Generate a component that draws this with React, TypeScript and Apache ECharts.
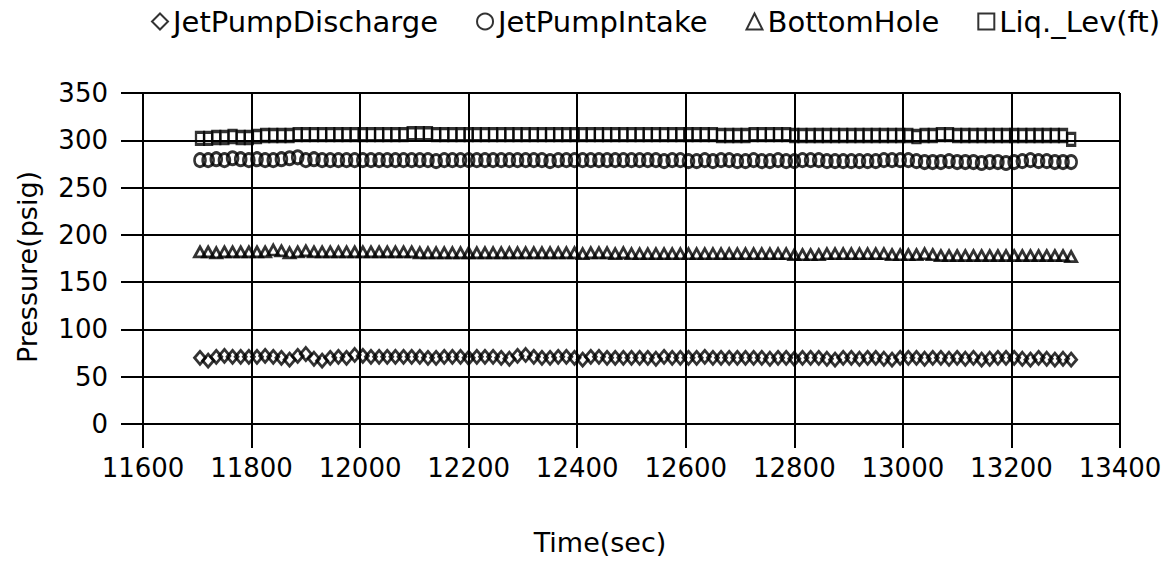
import React, { useEffect, useRef } from "react";
import * as echarts from "echarts";

const times = [
  11705, 11720, 11735, 11750, 11765, 11780, 11795, 11810, 11825, 11840,
  11855, 11870, 11885, 11900, 11915, 11930, 11945, 11960, 11975, 11990,
  12005, 12020, 12035, 12050, 12065, 12080, 12095, 12110, 12125, 12140,
  12155, 12170, 12185, 12200, 12215, 12230, 12245, 12260, 12275, 12290,
  12305, 12320, 12335, 12350, 12365, 12380, 12395, 12410, 12425, 12440,
  12455, 12470, 12485, 12500, 12515, 12530, 12545, 12560, 12575, 12590,
  12605, 12620, 12635, 12650, 12665, 12680, 12695, 12710, 12725, 12740,
  12755, 12770, 12785, 12800, 12815, 12830, 12845, 12860, 12875, 12890,
  12905, 12920, 12935, 12950, 12965, 12980, 12995, 13010, 13025, 13040,
  13055, 13070, 13085, 13100, 13115, 13130, 13145, 13160, 13175, 13190,
  13205, 13220, 13235, 13250, 13265, 13280, 13295, 13310,
];

const jetPumpDischarge = [
  70, 67, 71, 72, 71, 71, 71, 71, 72, 71,
  70, 68, 72, 74, 69, 67, 70, 71, 70, 73,
  72, 71, 71, 71, 71, 71, 71, 71, 70, 70,
  71, 71, 71, 70, 71, 71, 71, 70, 69, 72,
  73, 71, 70, 70, 71, 71, 70, 68, 71, 71,
  70, 70, 70, 70, 70, 70, 69, 71, 70, 70,
  70, 70, 71, 70, 70, 70, 70, 70, 70, 70,
  69, 70, 70, 69, 70, 70, 70, 69, 68, 70,
  70, 69, 70, 70, 69, 68, 70, 70, 70, 69,
  70, 70, 69, 70, 69, 70, 68, 69, 70, 70,
  70, 69, 68, 70, 69, 68, 69, 68,
];

const jetPumpIntake = [
  279, 279, 280, 279, 281, 280, 279, 280, 279, 279,
  280, 281, 282, 279, 280, 279, 279, 279, 279, 279,
  279, 279, 279, 279, 279, 279, 279, 279, 279, 278,
  279, 279, 279, 279, 279, 279, 279, 279, 279, 279,
  279, 279, 279, 278, 279, 279, 279, 279, 279, 279,
  279, 279, 279, 279, 279, 279, 279, 278, 279, 279,
  278, 278, 279, 278, 279, 279, 278, 278, 279, 278,
  278, 279, 278, 278, 279, 279, 279, 278, 278, 278,
  278, 278, 278, 278, 279, 279, 279, 279, 278, 277,
  277, 277, 278, 277, 277, 277, 276, 277, 277, 276,
  277, 278, 279, 278, 278, 277, 277, 277,
];

const bottomHole = [
  182, 182, 181, 182, 182, 182, 182, 182, 182, 184,
  183, 181, 182, 183, 182, 182, 182, 182, 182, 182,
  182, 182, 182, 182, 182, 182, 182, 181, 181, 181,
  181, 181, 181, 181, 181, 181, 181, 181, 181, 181,
  181, 181, 181, 181, 181, 181, 181, 180, 181, 181,
  181, 180, 181, 180, 180, 180, 180, 180, 180, 180,
  180, 180, 180, 180, 180, 180, 180, 180, 180, 180,
  180, 180, 180, 179, 179, 179, 179, 180, 180, 180,
  180, 180, 180, 180, 180, 179, 179, 179, 179, 180,
  179, 178, 178, 178, 178, 178, 178, 178, 178, 178,
  178, 178, 178, 178, 178, 178, 178, 177,
];

const liqLev = [
  302, 302, 303, 303, 304, 303, 303, 304, 305, 305,
  305, 305, 306, 306, 306, 306, 306, 306, 306, 306,
  306, 306, 306, 306, 306, 306, 307, 307, 307, 306,
  306, 306, 306, 306, 306, 306, 306, 306, 306, 306,
  306, 306, 306, 306, 306, 306, 306, 306, 306, 306,
  306, 306, 306, 306, 306, 306, 306, 306, 306, 306,
  306, 306, 306, 306, 305, 305, 305, 305, 306, 306,
  306, 306, 306, 305, 305, 305, 305, 305, 305, 305,
  305, 305, 305, 305, 305, 305, 305, 305, 304, 305,
  305, 306, 306, 305, 305, 305, 305, 305, 305, 305,
  305, 305, 305, 305, 305, 305, 305, 301,
];

const seriesNames = ["JetPumpDischarge", "JetPumpIntake", "BottomHole", "Liq._Lev(ft)"];

const FONT = '"DejaVu Sans", sans-serif';

export default function App() {
  const ref = useRef<HTMLDivElement>(null);

  useEffect(() => {
    if (!ref.current) return;
    const chart = echarts.init(ref.current, undefined, { renderer: "svg" });
    const hollow = {
      color: "rgba(255,255,255,0)",
      borderColor: "#000",
      borderWidth: 2.8,
    };
    const mk = (name: string, vals: number[], symbol: string, size: number | number[]) => ({
      name,
      type: "scatter",
      symbol,
      symbolSize: size,
      itemStyle: hollow,
      data: times.map((t, i) => [t, vals[i]]),
    });
    const axisLineStyle = { color: "#000", width: 2 };
    chart.setOption({
      animation: false,
      backgroundColor: "#fff",
      textStyle: { fontFamily: FONT, color: "#000" },
      legend: {
        top: 2,
        left: 146,
        itemWidth: 16,
        itemHeight: 16,
        itemGap: 38,
        textStyle: { fontFamily: FONT, fontSize: 29, color: "#000" },
        data: [
          { name: seriesNames[0], icon: "diamond", itemStyle: { borderWidth: 2 } },
          { name: seriesNames[1], icon: "circle", itemStyle: { borderWidth: 2 } },
          { name: seriesNames[2], icon: "triangle", itemStyle: { borderWidth: 2 } },
          { name: seriesNames[3], icon: "rect", itemStyle: { borderWidth: 2 } },
        ],
      },
      grid: { left: 143, right: 55, top: 93, bottom: 141, containLabel: false },
      xAxis: {
        type: "value",
        min: 11600,
        max: 13400,
        interval: 200,
        axisLine: { show: true, lineStyle: axisLineStyle },
        axisTick: { show: true, length: 24, lineStyle: axisLineStyle },
        splitLine: { show: true, lineStyle: axisLineStyle },
        axisLabel: {
          fontFamily: FONT,
          fontSize: 26,
          color: "#000",
          margin: 31,
          formatter: (v: number) => String(v),
        },
      },
      yAxis: {
        type: "value",
        min: 0,
        max: 350,
        interval: 50,
        axisLine: { show: true, lineStyle: axisLineStyle },
        axisTick: { show: true, length: 22, lineStyle: axisLineStyle },
        splitLine: { show: true, lineStyle: axisLineStyle },
        axisLabel: { fontFamily: FONT, fontSize: 26, color: "#000", margin: 35 },
      },
      graphic: [
        {
          type: "text",
          x: 27,
          y: 267,
          rotation: Math.PI / 2,
          style: {
            text: "Pressure(psig)",
            font: `27px ${FONT}`,
            fill: "#000",
            align: "center",
            verticalAlign: "middle",
          },
        },
        {
          type: "text",
          x: 600,
          y: 542,
          style: {
            text: "Time(sec)",
            font: `27px ${FONT}`,
            fill: "#000",
            align: "center",
            verticalAlign: "middle",
          },
        },
      ],
      series: [
        mk(seriesNames[0], jetPumpDischarge, "diamond", [11, 13]),
        mk(seriesNames[1], jetPumpIntake, "circle", [11, 13]),
        mk(seriesNames[2], bottomHole, "triangle", [11, 10]),
        mk(seriesNames[3], liqLev, "rect", [8, 12]),
      ],
    });
    return () => chart.dispose();
  }, []);

  return (
    <div
      ref={ref}
      style={{ position: "fixed", left: 0, top: 0, width: 1175, height: 565 }}
    />
  );
}
